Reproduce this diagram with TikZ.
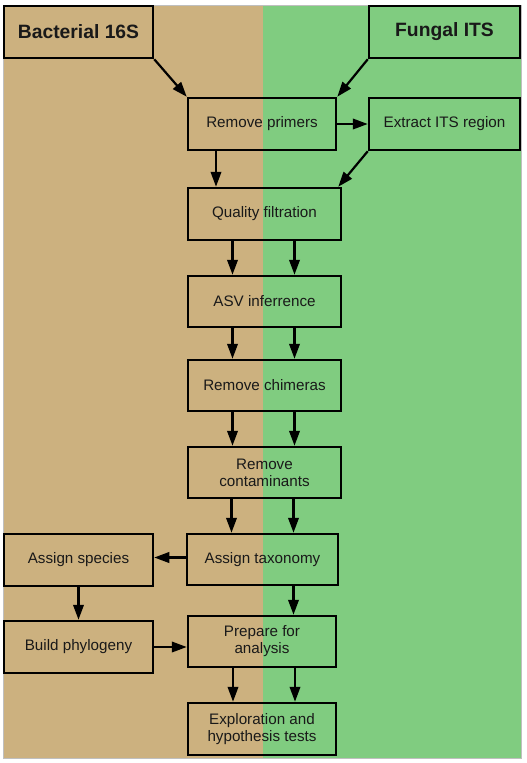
\documentclass[tikz,border=0pt]{standalone}
\usepackage{fontspec}
\setmainfont{Liberation Sans}
\usetikzlibrary{arrows.meta}
\definecolor{bgtan}{RGB}{204,177,127}
\definecolor{bggreen}{RGB}{128,204,128}
\tikzset{
  stepbox/.style={draw=black, line width=2.5pt, rectangle, inner sep=0pt, align=center,
    font=\fontsize{15.2}{17}\selectfont, text=black!90},
  headbox/.style={stepbox, font=\fontsize{19.3}{21}\selectfont\bfseries},
  arr/.style={line width=2.2pt, -{Triangle[length=15pt,width=10.5pt]}},
}
\begin{document}
\begin{tikzpicture}[x=1pt,y=-1pt]
\useasboundingbox (0,0) rectangle (527,763);
\fill[bgtan] (3,5) rectangle (263,758);
\fill[bggreen] (263,5) rectangle (521,758);
\draw[black!25, line width=0.8pt] (3,5) rectangle (521,758);

\node[headbox, minimum width=149pt, minimum height=52pt] (bac) at (78.5,32) {Bacterial 16S};
\node[headbox, minimum width=151pt, minimum height=52pt] (fun) at (444.5,32) {Fungal ITS};
\node[stepbox, minimum width=148pt, minimum height=52pt] (rp) at (262,124) {Remove primers};
\node[stepbox, minimum width=151pt, minimum height=52pt] (ext) at (444.5,124) {Extract ITS region};
\node[stepbox, minimum width=153pt, minimum height=52pt] (qf) at (264.5,214) {Quality filtration};
\node[stepbox, minimum width=153pt, minimum height=51pt] (asv) at (264.5,301.5) {ASV inferrence};
\node[stepbox, minimum width=153pt, minimum height=51pt] (chi) at (264.5,385.5) {Remove chimeras};
\node[stepbox, minimum width=153pt, minimum height=51pt] (con) at (264.5,472.5) {Remove\\contaminants};
\node[stepbox, minimum width=151pt, minimum height=51pt] (tax) at (262.5,559.5) {\raisebox{1.5pt}{Assign taxonomy}};
\node[stepbox, minimum width=149pt, minimum height=52pt] (spe) at (78.5,560) {Assign species};
\node[stepbox, minimum width=149pt, minimum height=52pt] (phy) at (78.5,647) {Build phylogeny};
\node[stepbox, minimum width=148pt, minimum height=51pt] (pre) at (262,641.5) {Prepare for\\analysis};
\node[stepbox, minimum width=148pt, minimum height=52pt] (exp) at (262,729) {Exploration and\\hypothesis tests};

\draw[arr] (bac.south east) -- (rp.north west);
\draw[arr] (fun.south west) -- (rp.north east);
\draw[arr] (rp.east) -- (ext.west);
\draw[arr] ([xshift=-46pt]rp.south) -- ([xshift=-46pt]rp.south |- qf.north);
\draw[arr] (ext.south west) -- ([xshift=-4pt]qf.north east);

\draw[arr] ([xshift=-32pt]qf.south) -- ([xshift=-32pt]asv.north);
\draw[arr] ([xshift=30pt]qf.south) -- ([xshift=30pt]asv.north);
\draw[arr] ([xshift=-32pt]asv.south) -- ([xshift=-32pt]chi.north);
\draw[arr] ([xshift=30pt]asv.south) -- ([xshift=30pt]chi.north);
\draw[arr] ([xshift=-32pt]chi.south) -- ([xshift=-32pt]con.north);
\draw[arr] ([xshift=30pt]chi.south) -- ([xshift=30pt]con.north);
\draw[arr] ([xshift=-33pt]con.south) -- ([xshift=-33pt]con.south |- tax.north);
\draw[arr] ([xshift=29pt]con.south) -- ([xshift=29pt]con.south |- tax.north);

\draw[arr] ([yshift=2pt]tax.west) -- ([yshift=2pt]tax.west -| spe.east);
\draw[arr] (spe.south) -- (phy.north);
\draw[arr] ([xshift=31pt]tax.south) -- ([xshift=31pt]tax.south |- pre.north);
\draw[arr] (phy.east) -- (phy.east -| pre.west);
\draw[arr] ([xshift=-29pt]pre.south) -- ([xshift=-29pt]exp.north);
\draw[arr] ([xshift=33pt]pre.south) -- ([xshift=33pt]exp.north);
\end{tikzpicture}
\end{document}
